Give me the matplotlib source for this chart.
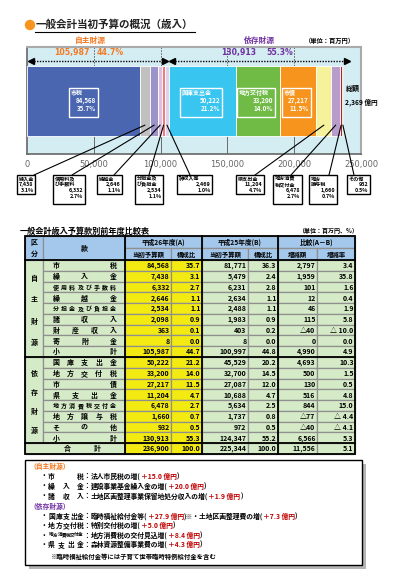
import matplotlib
matplotlib.use('Agg')
import matplotlib.pyplot as plt
from matplotlib.patches import Rectangle, Circle, ConnectionPatch

plt.rcParams['font.family'] = ['Noto Sans CJK JP', 'DejaVu Sans']
plt.rcParams['font.weight'] = 'bold'

# ---------------- data ----------------
own_names = ['市税', '繰入金', '使用料及び手数料', '繰越金', '分担金及び負担金', '諸収入等']
own_values = [84568, 7438, 6332, 2646, 2534, 2469]
own_pcts = [35.7, 3.1, 2.7, 1.1, 1.1, 1.0]
dep_names = ['国庫支出金', '地方交付税', '市債', '県支出金', '地方消費税交付金', '地方譲与税', 'その他']
dep_values = [50222, 33200, 27217, 11204, 6478, 1660, 932]
dep_pcts = [21.2, 14.0, 11.5, 4.7, 2.7, 0.7, 0.5]
own_total = 105987
own_share = 44.7
dep_total = 130913
dep_share = 55.3
grand_total_oku = '2,369'
x_ticks = [0, 50000, 100000, 150000, 200000, 250000]

row_names = ['市税', '繰入金', '使用料及び手数料', '繰越金', '分担金及び負担金', '諸収入', '財産収入', '寄附金', '小計',
             '国庫支出金', '地方交付税', '市債', '県支出金', '地方消費税交付金', '地方譲与税', 'その他', '小計', '合計']
a_amount = [84568, 7438, 6332, 2646, 2534, 2098, 363, 8, 105987,
            50222, 33200, 27217, 11204, 6478, 1660, 932, 130913, 236900]
a_ratio = [35.7, 3.1, 2.7, 1.1, 1.1, 0.9, 0.1, 0.0, 44.7,
           21.2, 14.0, 11.5, 4.7, 2.7, 0.7, 0.5, 55.3, 100.0]
b_amount = [81771, 5479, 6231, 2634, 2488, 1983, 403, 8, 100997,
            45529, 32700, 27087, 10688, 5634, 1737, 972, 124347, 225344]
b_ratio = [36.3, 2.4, 2.8, 1.1, 1.1, 0.9, 0.2, 0.0, 44.8,
           20.2, 14.5, 12.0, 4.7, 2.5, 0.8, 0.5, 55.2, 100.0]
diff_amount = [2797, 1959, 101, 12, 46, 115, -40, 0, 4990,
               4693, 500, 130, 516, 844, -77, -40, 6566, 11556]
diff_rate = [3.4, 35.8, 1.6, 0.4, 1.9, 5.8, -10.0, 0.0, 4.9,
             10.3, 1.5, 0.5, 4.8, 15.0, -4.4, -4.1, 5.3, 5.1]

notes_own = [('市税', '法人市民税の増', '＋15.0 億円'),
             ('繰入金', '建設事業基金繰入金の増', '＋20.0 億円'),
             ('諸収入', '土地区画整理事業保留地処分収入の増', '＋1.9 億円')]
notes_dep = [('国庫支出金', '臨時福祉給付金等', '＋27.9 億円', '※・土地区画整理費の増', '＋7.3 億円'),
             ('地方交付税', '特別交付税の増', '＋5.0 億円'),
             ('地方消費税交付金', '地方消費税の交付見込増', '＋8.4 億円'),
             ('県支出金', '森林資源整備事業費の増', '＋4.3 億円')]
footnote = '※臨時福祉給付金等には子育て世帯臨時特例給付金を含む'

# ---------------- style ----------------
own_colors = ['#4a66b0', '#c0c0c0', '#9a94c8', '#dcc0e0', '#f47a7a', '#dcd4ee']
dep_colors = ['#38c5f0', '#70bb45', '#f7941e', '#f6f19b', '#b79ccc', '#a52a2a', '#6e1c1c']
ORANGE = '#f47920'
PURPLE = '#7030a0'
RED = '#c00000'
BLUE_HDR = '#a4c8ec'
GREEN = '#d5eac6'
YELLOW = '#f3ea12'

W, H = 397, 580
fig = plt.figure(figsize=(W / 100, H / 100), dpi=100)
fig.patch.set_facecolor('white')

# ---------------- bar axes ----------------
ax_l, ax_r, ax_t, ax_b = 27, 361, 47, 154
ax = fig.add_axes([ax_l / W, 1 - ax_b / H, (ax_r - ax_l) / W, (ax_b - ax_t) / H])
ax.set_facecolor('#d3edf3')
ax.set_xlim(0, 250000)
ax.set_ylim(0, 1)
bar_y, bar_h = 0.495, 0.654
strip_top = bar_y + bar_h / 2
strip_bot = bar_y - bar_h / 2

all_vals = own_values + dep_values
all_cols = own_colors + dep_colors
lefts = []
acc = 0
for v in all_vals:
    lefts.append(acc)
    acc += v
ax.barh([bar_y] * len(all_vals), all_vals, left=lefts, height=bar_h,
        color=all_cols, edgecolor='white', linewidth=0.6, zorder=3)

ax.vlines(x_ticks[1:-1], strip_top, 1, colors='#555555', linestyles=(0, (2, 1.5)), linewidth=0.6, zorder=2)
ax.vlines(x_ticks[1:-1], 0, strip_bot, colors='#555555', linewidth=0.6, zorder=2)

ax.set_xticks(x_ticks)
ax.set_xticklabels([f'{t:,}' for t in x_ticks], fontsize=6.0, color='#666666', fontweight='normal',
                   family=['DejaVu Sans'])
ax.tick_params(axis='x', length=0, pad=4)
ax.set_yticks([])
for s in ['left', 'bottom']:
    ax.spines[s].set_color('#666666')
    ax.spines[s].set_linewidth(1.2)
for s in ['top', 'right']:
    ax.spines[s].set_color('#aaaaaa')
    ax.spines[s].set_linewidth(1.5)

# group arrows in top strip
arr_y = 0.87
total = own_total + dep_total
pad = total * 0.012
ax.plot([pad, own_total - pad], [arr_y, arr_y], ls=(0, (1, 1)), color='black', lw=1.0, zorder=4)
ax.plot([pad], [arr_y], marker='<', color='black', ms=4, zorder=4)
ax.plot([own_total - pad], [arr_y], marker='>', color='black', ms=4, zorder=4)
ax.plot([own_total + pad, total + pad], [arr_y, arr_y], ls=(0, (1, 1)), color='black', lw=1.0, zorder=4)
ax.plot([own_total + pad], [arr_y], marker='<', color='black', ms=4, zorder=4)
ax.plot([total + pad], [arr_y], marker='>', color='black', ms=4, zorder=4)

# ---------------- overlay (pixel coordinates) ----------------
ov = fig.add_axes([0, 0, 1, 1], zorder=5)
ov.set_xlim(0, W)
ov.set_ylim(H, 0)
ov.axis('off')
ov.patch.set_visible(False)

# title
ov.add_patch(Circle((30, 25), 4.5, color='#f7941d'))
ov.text(36, 25, '一般会計当初予算の概況（歳入）', fontsize=7.6, va='center', ha='left', color='#222222')
ov.plot([35, 195], [31.5, 31.5], color='black', lw=0.8)
ov.text(90, 40, '自主財源', fontsize=5.6, color=ORANGE, ha='center', va='center')
ov.text(259, 40, '依存財源', fontsize=5.6, color=PURPLE, ha='center', va='center')
ov.text(330, 41, '（単位：百万円）', fontsize=4.5, color='black', ha='center', va='center')

ov.text(90, 52.5, f'{own_total:,}', fontsize=5.6, color=ORANGE, ha='right', va='center', family=['DejaVu Sans'])
ov.text(97, 52.5, f'{own_share}%', fontsize=5.6, color=ORANGE, ha='left', va='center', family=['DejaVu Sans'])
ov.text(256, 52.5, f'{dep_total:,}', fontsize=5.6, color=PURPLE, ha='right', va='center', family=['DejaVu Sans'])
ov.text(266, 52.5, f'{dep_share}%', fontsize=5.6, color=PURPLE, ha='left', va='center', family=['DejaVu Sans'])

ov.text(346, 88, '総額', fontsize=5.0, ha='left', va='center', color='black')
ov.text(345, 102, f'{grand_total_oku} 億円', fontsize=4.8, ha='left', va='center', color='black')

# in-bar boxes
inbar = {'市税': (69, 98), '国庫支出金': (180, 222), '地方交付税': (237, 275), '市債': (282, 311)}
names_all = own_names + dep_names
pcts_all = own_pcts + dep_pcts
for name, (x0, x1) in inbar.items():
    i = names_all.index(name)
    ov.add_patch(Rectangle((x0, 88), x1 - x0, 29, fill=False, edgecolor='white', lw=1.0))
    ov.text(x0 + 2, 93, name, fontsize=4.3, color='white', ha='left', va='center')
    ov.text(x1 - 2, 100.5, f'{all_vals[i]:,}', fontsize=4.5, color='white', ha='right', va='center')
    ov.text(x1 - 2, 108.5, f'{pcts_all[i]}%', fontsize=4.5, color='white', ha='right', va='center')

# label boxes below the chart
wrapped = {'使用料及び手数料': ['使用料及', 'び手数料'], '分担金及び負担金': ['分担金及', 'び負担金'],
           '地方消費税交付金': ['地方消費', '税交付金'], '地方譲与税': ['地方', '譲与税']}
below = {'繰入金': (17, 35, 34), '使用料及び手数料': (53, 85, 72), '繰越金': (97, 122, 114),
         '分担金及び負担金': (135, 163, 149), '諸収入等': (177, 212, 190), '県支出金': (236, 264, 255),
         '地方消費税交付金': (273, 302, 291), '地方譲与税': (309, 337, 329), 'その他': (347, 370, 354)}
box_top = 175
step = 5.9
for name, (x0, x1, xe) in below.items():
    i = names_all.index(name)
    lines = wrapped.get(name, [name])
    h = 19 if len(lines) == 1 else 28.5
    ov.add_patch(Rectangle((x0, box_top), x1 - x0, h, fill=False, edgecolor='black', lw=1.0))
    y = box_top + 4
    for ln in lines:
        ov.text(x0 + 1.5, y, ln, fontsize=3.7, ha='left', va='center', color='black')
        y += step
    ov.text(x1 - 1.5, y, f'{all_vals[i]:,}', fontsize=3.9, ha='right', va='center', color='black')
    y += step
    ov.text(x1 - 1.5, y, f'{pcts_all[i]}%', fontsize=3.9, ha='right', va='center', color='black')
    cx = lefts[i] + all_vals[i] / 2
    con = ConnectionPatch(xyA=(cx, 0.27), coordsA=ax.transData, xyB=(xe, box_top), coordsB=ov.transData,
                          color='black', lw=0.8, zorder=6)
    fig.add_artist(con)

# ---------------- table ----------------
ov.text(20, 231, '一般会計歳入予算款別前年度比較表', fontsize=5.9, ha='left', va='center', color='black')
ov.text(358, 230, '（単位：百万円、%）', fontsize=4.3, ha='right', va='center', color='black')

cols = [25, 43, 125, 171, 202, 248, 278, 317, 355]
y_top, y_h1, y_h2, y_bot = 236, 248, 260, 454
nrows = len(row_names)
rh = (y_bot - y_h2) / nrows
GRAY = '#8f8f8f'


def cell(x0, x1, y0, y1, fc):
    ov.add_patch(Rectangle((x0, y0), x1 - x0, y1 - y0, facecolor=fc, edgecolor=GRAY, lw=0.9))


# header
cell(cols[0], cols[1], y_top, y_h2, BLUE_HDR)
cell(cols[1], cols[2], y_top, y_h2, BLUE_HDR)
ov.text(34, 242.5, '区', fontsize=5, ha='center', va='center')
ov.text(34, 253.5, '分', fontsize=5, ha='center', va='center')
ov.text(84, 248, '款', fontsize=5, ha='center', va='center')
groups = ['平成26年度(A)', '平成25年度(B)', '比較(A－B)']
subs = ['当初予算額', '構成比', '当初予算額', '構成比', '増減額', '増減率']
for g in range(3):
    x0, x1 = cols[2 + 2 * g], cols[4 + 2 * g]
    cell(x0, x1, y_top, y_h1, BLUE_HDR)
    ov.text((x0 + x1) / 2, (y_top + y_h1) / 2, groups[g], fontsize=4.8, ha='center', va='center')
for k in range(6):
    x0, x1 = cols[2 + k], cols[3 + k]
    cell(x0, x1, y_h1, y_h2, BLUE_HDR)
    ov.text((x0 + x1) / 2, (y_h1 + y_h2) / 2, subs[k], fontsize=4.6, ha='center', va='center')


def fmt_amt(v):
    return f'△{abs(v):,}' if v < 0 else f'{v:,}'


def fmt_rate(v):
    return f'△ {abs(v):.1f}' if v < 0 else f'{v:.1f}'


def spread(text, x0, x1, y, size):
    n = len(text)
    for j, ch in enumerate(text):
        x = x0 + (x1 - x0) * j / (n - 1) if n > 1 else (x0 + x1) / 2
        ov.text(x, y, ch, fontsize=size, ha='center', va='center', color='black')


# group column (区分)
group_rows = [(0, 9, '自主財源'), (9, 17, '依存財源')]
for r0, r1, label in group_rows:
    ya, yb = y_h2 + r0 * rh, y_h2 + r1 * rh
    cell(cols[0], cols[1], ya, yb, GREEN)
    hgt = yb - ya
    n = len(label)
    for j, ch in enumerate(label):
        yy = ya + 0.19 * hgt + (0.66 * hgt) * j / (n - 1)
        ov.text(34, yy, ch, fontsize=5, ha='center', va='center')

for r in range(nrows):
    ya, yb = y_h2 + r * rh, y_h2 + (r + 1) * rh
    ym = (ya + yb) / 2 + 0.3
    name = row_names[r]
    if name == '合計':
        cell(cols[0], cols[2], ya, yb, GREEN)
        spread(name, 67, 97, ym, 5)
    else:
        cell(cols[1], cols[2], ya, yb, GREEN)
        size = 4.3 if len(name) >= 6 else 5
        spread(name, 56, 113, ym, size)
    vals = [fmt_amt(a_amount[r]), f'{a_ratio[r]:.1f}', fmt_amt(b_amount[r]), f'{b_ratio[r]:.1f}',
            fmt_amt(diff_amount[r]), fmt_rate(diff_rate[r])]
    for k in range(6):
        x0, x1 = cols[2 + k], cols[3 + k]
        cell(x0, x1, ya, yb, YELLOW if k < 2 else GREEN)
        ov.text(x1 - 1.5, ym, vals[k], fontsize=5, ha='right', va='center', color='black',
                family=['Noto Sans CJK JP', 'DejaVu Sans'])

# major black lines
BL = 1.3
ov.add_patch(Rectangle((cols[0], y_top), cols[-1] - cols[0], y_bot - y_top, fill=False, edgecolor='black', lw=BL))
for xv in [cols[2], cols[4], cols[6]]:
    ov.plot([xv, xv], [y_top, y_bot], color='black', lw=BL)
for yv in [y_h2, y_h2 + 9 * rh, y_h2 + 17 * rh]:
    ov.plot([cols[0], cols[-1]], [yv, yv], color='black', lw=BL)

# ---------------- notes box ----------------
bx0, bx1, by0, by1 = 25, 362, 460, 565
ov.add_patch(Rectangle((bx0 + 4, by0 + 4), bx1 - bx0, by1 - by0, facecolor='#b5b5b5', edgecolor='none'))
ov.add_patch(Rectangle((bx0, by0), bx1 - bx0, by1 - by0, facecolor='white', edgecolor='black', lw=1.0))

NS = 4.9


def chain(x, y, pieces, size=NS):
    prev = ov.text(x, y, pieces[0][0], fontsize=size, ha='left', va='center', color=pieces[0][1])
    for txt, col in pieces[1:]:
        prev = ov.annotate(txt, xy=(1, 0), xycoords=prev, ha='left', va='bottom', fontsize=size, color=col)
    return prev


def note_line(y, label, pieces):
    ov.text(44, y, '・', fontsize=NS, ha='center', va='center')
    lsize = NS if len(label) <= 5 else 3.3
    spread(label, 51.5, 80.5, y, lsize)
    ov.text(83.5, y, '：', fontsize=NS, ha='left', va='center')
    chain(91, y, pieces)


ov.text(29, 466, '（自主財源）', fontsize=NS, ha='left', va='center', color=ORANGE)
ys_own = [476, 486, 496]
for y, (lab, txt, amt) in zip(ys_own, notes_own):
    note_line(y, lab, [(txt + '(', 'black'), (amt, RED), (')', 'black')])
ov.text(29, 506, '（依存財源）', fontsize=NS, ha='left', va='center', color=PURPLE)
ys_dep = [516, 525.5, 535, 544.5]
for y, item in zip(ys_dep, notes_dep):
    if len(item) == 5:
        lab, t1, a1, t2, a2 = item
        note_line(y, lab, [(t1 + '(', 'black'), (a1, RED), (')' + t2 + '(', 'black'), (a2, RED), (')', 'black')])
    else:
        lab, txt, amt = item
        note_line(y, lab, [(txt + '(', 'black'), (amt, RED), (')', 'black')])
ov.text(50, 556, footnote, fontsize=4.6, ha='left', va='center', color='black')

fig.savefig('out.png', dpi=100)
